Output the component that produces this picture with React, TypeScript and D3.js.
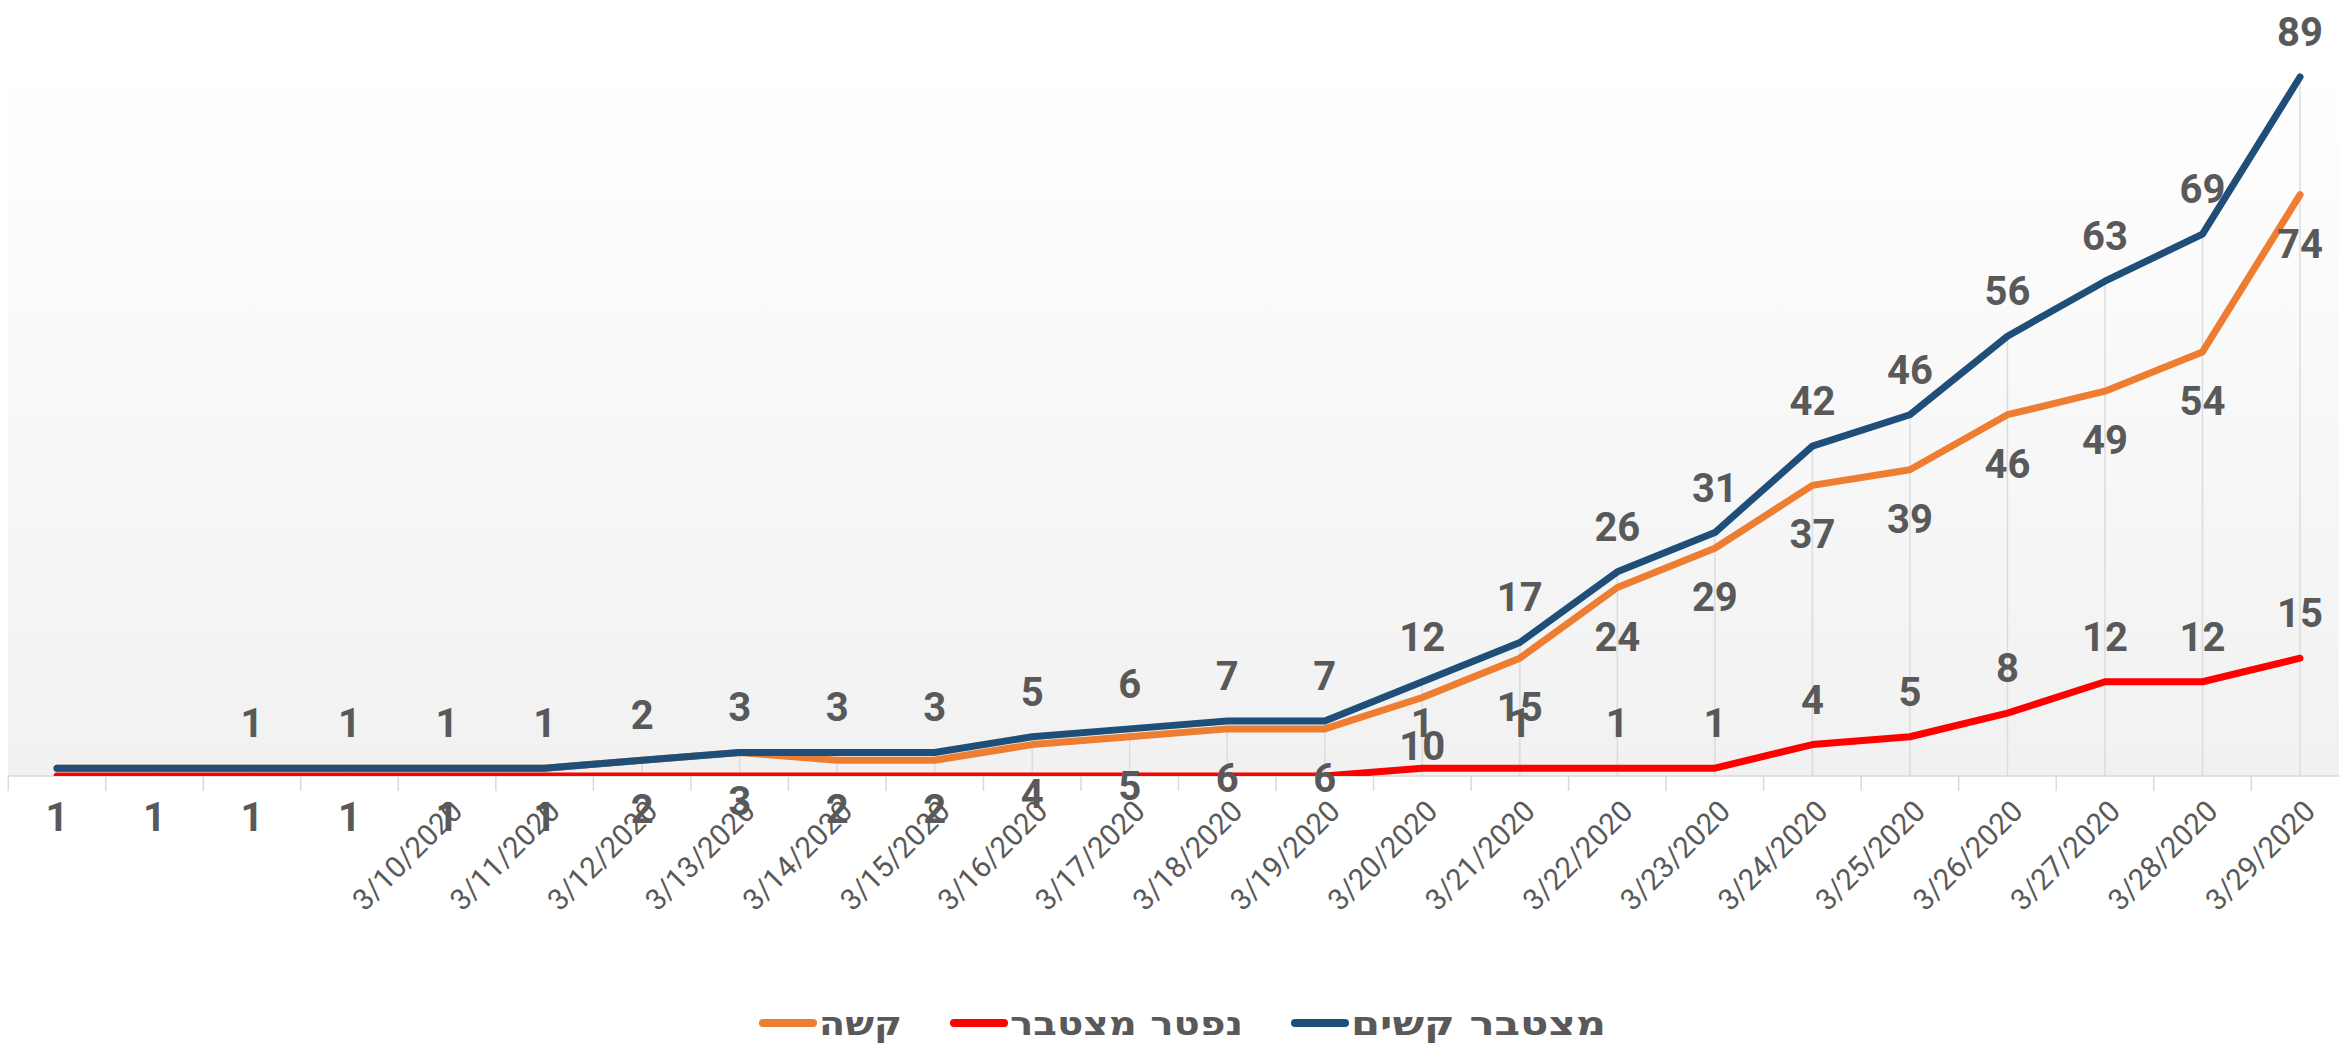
import React from 'react';
import * as d3 from 'd3';

// --- data ---
const dates = [
    '3/6/2020', '3/7/2020', '3/8/2020', '3/9/2020', '3/10/2020', '3/11/2020',
    '3/12/2020', '3/13/2020', '3/14/2020', '3/15/2020', '3/16/2020', '3/17/2020',
    '3/18/2020', '3/19/2020', '3/20/2020', '3/21/2020', '3/22/2020', '3/23/2020',
    '3/24/2020', '3/25/2020', '3/26/2020', '3/27/2020', '3/28/2020', '3/29/2020',
];
const seriousCumulative = [1, 1, 1, 1, 1, 1, 2, 3, 3, 3, 5, 6, 7, 7, 12, 17, 26, 31, 42, 46, 56, 63, 69, 89];
const serious = [1, 1, 1, 1, 1, 1, 2, 3, 2, 2, 4, 5, 6, 6, 10, 15, 24, 29, 37, 39, 46, 49, 54, 74];
const deceasedCumulative = [0, 0, 0, 0, 0, 0, 0, 0, 0, 0, 0, 0, 0, 0, 1, 1, 1, 1, 4, 5, 8, 12, 12, 15];

// first index that carries a visible label
const seriousCumLabelFrom = 2;
const deceasedLabelFrom = 14;
const dateLabelFrom = 4;

const legendItems = [
    { name: 'קשה', color: '#ED7D31' },
    { name: 'נפטר מצטבר', color: '#FF0000' },
    { name: 'מצטבר קשים', color: '#1F4E79' },
];

const W = 2339;
const H = 1047;
const plotLeft = 8;
const axisY = 776;
const labelColor = '#595959';

export default function App() {
    const x = d3.scalePoint<string>().domain(dates).range([57, 2300]);
    const step = x.step();
    const y = d3.scaleLinear().domain([0, 100]).range([axisY, axisY - 785.4]);

    const line = d3.line<number>()
        .x((_, i) => x(dates[i]) as number)
        .y(d => y(d));

    const series = [
        { values: serious, color: '#ED7D31' },
        { values: deceasedCumulative, color: '#FF0000' },
        { values: seriousCumulative, color: '#1F4E79' },
    ];

    const tickEdges = d3.range(dates.length + 1).map(i => (x(dates[0]) as number) - step / 2 + i * step);

    // legend layout, left to right: marker then text (text widths as in the picture)
    const legendWidths = [83, 233, 255];
    const markerLen = 58;
    const gapMarkerText = 2;
    const gapItems = 48;
    let lx = 759;
    const legendPos = legendItems.map((it, i) => {
        const p = { ...it, mx: lx, tx: lx + markerLen + gapMarkerText, w: legendWidths[i] };
        lx += markerLen + gapMarkerText + legendWidths[i] + gapItems;
        return p;
    });

    return (
        <svg width={W} height={H} style={{ position: 'absolute', left: 0, top: 0, background: '#fff' }}
            fontFamily="Roboto, 'DejaVu Sans', sans-serif">
            <defs>
                <linearGradient id="plotBg" x1="0" y1="0" x2="0" y2="1">
                    <stop offset="0" stopColor="#ffffff" />
                    <stop offset="0.08" stopColor="#ffffff" />
                    <stop offset="1" stopColor="#f1f1f1" />
                </linearGradient>
                <clipPath id="plotClip">
                    <rect x={plotLeft} y={-20} width={W - plotLeft} height={axisY + 20} />
                </clipPath>
            </defs>

            <rect x={plotLeft} y={0} width={W - plotLeft} height={axisY} fill="url(#plotBg)" />

            {/* drop lines */}
            {dates.map((d, i) => {
                const top = Math.max(seriousCumulative[i], serious[i], deceasedCumulative[i]);
                return <line key={d} x1={x(d)} x2={x(d)} y1={y(top)} y2={axisY} stroke="#dcdcdc" strokeWidth={1.5} />;
            })}

            {/* category axis */}
            <line x1={plotLeft} x2={W} y1={axisY} y2={axisY} stroke="#d9d9d9" strokeWidth={1.5} />
            {tickEdges.map((tx, i) => (
                <line key={i} x1={tx} x2={tx} y1={axisY} y2={axisY + 15} stroke="#d9d9d9" strokeWidth={1.5} />
            ))}
            {dates.map((d, i) => i < dateLabelFrom ? null : (
                <text key={d} transform={`translate(${(x(d) as number) + 2},${axisY + 22}) rotate(-45)`}
                    textAnchor="end" dy="0.72em" fontSize={29.5} fill={labelColor}>{d}</text>
            ))}

            {/* series */}
            <g clipPath="url(#plotClip)">
                {series.map(s => (
                    <path key={s.color} d={line(s.values) || ''} fill="none" stroke={s.color}
                        strokeWidth={7} strokeLinejoin="round" strokeLinecap="round" />
                ))}
            </g>

            {/* data labels */}
            <g fontWeight="bold" fontSize={40} fill={labelColor} textAnchor="middle">
                {serious.map((v, i) => (
                    <text key={'o' + i} x={x(dates[i])} y={y(v) + 63}>{v}</text>
                ))}
                {deceasedCumulative.map((v, i) => i < deceasedLabelFrom ? null : (
                    <text key={'r' + i} x={x(dates[i])} y={y(v) - 31}>{v}</text>
                ))}
                {seriousCumulative.map((v, i) => i < seriousCumLabelFrom ? null : (
                    <text key={'b' + i} x={x(dates[i])} y={y(v) - 31}>{v}</text>
                ))}
            </g>

            {/* legend */}
            <g>
                {legendPos.map(p => (
                    <g key={p.name}>
                        <line x1={p.mx + 4} x2={p.mx + markerLen - 4} y1={1023} y2={1023}
                            stroke={p.color} strokeWidth={8} strokeLinecap="round" />
                        <text x={p.tx} y={1035} fontFamily="'DejaVu Sans', sans-serif" fontWeight="bold"
                            fontSize={33} fill={labelColor} textLength={p.w}
                            lengthAdjust="spacingAndGlyphs">{p.name}</text>
                    </g>
                ))}
            </g>
        </svg>
    );
}
